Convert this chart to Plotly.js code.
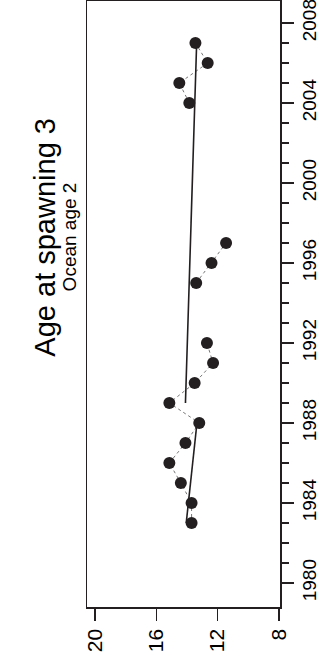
<!DOCTYPE html>
<html>
<head>
<meta charset="utf-8">
<script src="https://cdn.plot.ly/plotly-3.0.1.min.js"></script>
<style>html,body{margin:0;padding:0;background:#fff;}#chart{width:324px;height:667px;}</style>
</head>
<body>
<div id="chart"></div>
<script>
// Observed data (year, value); null = no observation
const years = [1983,1984,1985,1986,1987,1988,1989,1990,1991,1992,1993,1994,1995,1996,1997,1998,1999,2000,2001,2002,2003,2004,2005,2006,2007];
const values = [13.7,13.7,14.4,15.15,14.1,13.2,15.15,13.5,12.3,12.7,null,null,13.4,12.4,11.45,null,null,null,null,null,null,13.85,14.5,12.65,13.45];
// Fitted trend segments
const fit1Years = [1983,1988];
const fit1Values = [14.05,13.35];
const fit2Years = [1989,2007];
const fit2Values = [14.1,13.37];
// Axis ticks
const valueTicks = [20,16,12,8];
const yearTicks = [1980,1984,1988,1992,1996,2000,2004,2008];
const yearMinorTicks = [1981,1982,1983,1985,1986,1987,1989,1990,1991,1993,1994,1995,1997,1998,1999,2001,2002,2003,2005,2006,2007];

const ink = '#231f20';
const font = 'Liberation Sans, Arial, Helvetica, sans-serif';

const traces = [
  {x: values, y: years, type: 'scatter', mode: 'lines', connectgaps: false,
   line: {color: '#777', width: 1, dash: 'dot'}, hoverinfo: 'skip'},
  {x: fit1Values, y: fit1Years, type: 'scatter', mode: 'lines',
   line: {color: ink, width: 1.6}},
  {x: fit2Values, y: fit2Years, type: 'scatter', mode: 'lines',
   line: {color: ink, width: 1.6}},
  {x: values, y: years, type: 'scatter', mode: 'markers',
   marker: {color: ink, size: 12}}
];

const layout = {
  width: 324, height: 667,
  margin: {l: 87, r: 44, t: 1, b: 60, pad: 0},
  showlegend: false,
  paper_bgcolor: '#fff', plot_bgcolor: '#fff',
  font: {family: font, color: '#000', size: 20},
  xaxis: {
    range: [20.52, 7.935], tickvals: valueTicks,
    tickangle: -90, ticks: 'outside', ticklen: 12, tickwidth: 1.5, tickcolor: ink,
    showgrid: false, zeroline: false, showline: true, linecolor: ink, linewidth: 1.5, mirror: true,
    ticklabeloverflow: 'allow',
    tickfont: {size: 21, family: font, color: '#000'}
  },
  yaxis: {
    range: [1978.8, 2009.1], side: 'right', tickvals: yearTicks,
    tickangle: -90, ticks: 'outside', ticklen: 12, tickwidth: 1.5, tickcolor: ink,
    minor: {tickmode: 'array', tickvals: yearMinorTicks, ticks: 'outside', ticklen: 7, tickwidth: 1.5, tickcolor: ink, showgrid: false},
    showgrid: false, zeroline: false, showline: true, linecolor: ink, linewidth: 1.5, mirror: true,
    ticklabeloverflow: 'allow',
    tickfont: {size: 19, family: font, color: '#000'}
  },
  annotations: [
    {text: 'Age at spawning 3', xref: 'paper', yref: 'paper', x: -0.218, y: 0.611,
     xanchor: 'center', yanchor: 'middle', textangle: -90, showarrow: false,
     font: {size: 29, family: font, color: '#000'}},
    {text: 'Ocean age 2', xref: 'paper', yref: 'paper', x: -0.093, y: 0.61,
     xanchor: 'center', yanchor: 'middle', textangle: -90, showarrow: false,
     font: {size: 19, family: font, color: '#000'}}
  ]
};

Plotly.newPlot('chart', traces, layout, {displayModeBar: false, staticPlot: true});
</script>
</body>
</html>
